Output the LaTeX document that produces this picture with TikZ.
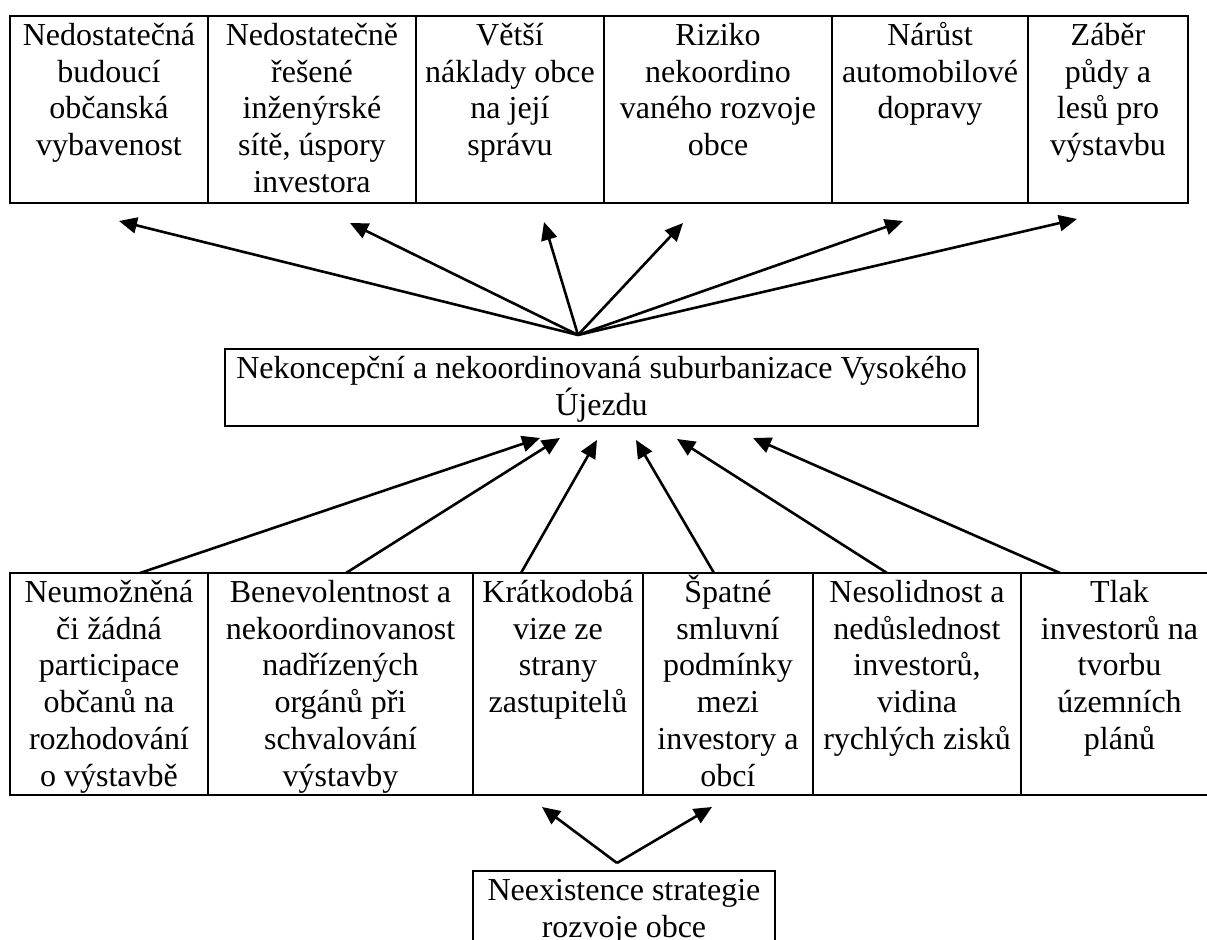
\documentclass[tikz,border=0pt]{standalone}
\usepackage{fontspec}
\setmainfont{Liberation Serif}
\usetikzlibrary{arrows.meta,fit}
\newcommand\mystrut{\rule{0pt}{14.5pt}}
\begin{document}
\begin{tikzpicture}[x=0.5pt,y=-0.5pt,
  box/.style={draw, line width=1.3pt, inner sep=0pt},
  lbl/.style={anchor=north, inner sep=0pt, align=center, font=\fontsize{16pt}{18.4pt}\selectfont},
  arr/.style={line width=1.3pt, -{Triangle[length=9pt,width=8pt]}}]
\useasboundingbox (0,0) rectangle (1207,940);
\begin{scope}
\clip (0,0) rectangle (1207,940);
% top row
\node[box, fit={(10,16) (208,203)}] (t1) {};
\node[box, fit={(208,16) (416,203)}] (t2) {};
\node[box, fit={(416,16) (604,203)}] (t3) {};
\node[box, fit={(604,16) (832,203)}] (t4) {};
\node[box, fit={(832,16) (1028,203)}] (t5) {};
\node[box, fit={(1028,16) (1188,203)}] (t6) {};
\node[lbl] (t1l) at (109,16) {\mystrut Nedostatečná\\budoucí\\občanská\\vybavenost};
\node[lbl] (t2l) at (312,16) {\mystrut Nedostatečně\\řešené\\inženýrské\\sítě, úspory\\investora};
\node[lbl] (t3l) at (510,16) {\mystrut Větší\\náklady obce\\na její\\správu};
\node[lbl] (t4l) at (718,16) {\mystrut Riziko\\nekoordino\\vaného rozvoje\\obce};
\node[lbl] (t5l) at (930,16) {\mystrut Nárůst\\automobilové\\dopravy};
\node[lbl] (t6l) at (1108,16) {\mystrut Záběr\\půdy a\\lesů pro\\výstavbu};
% center
\node[box, fit={(225,349) (978,426)}] (c) {};
\node[lbl] (cl) at (601.5,349) {\mystrut Nekoncepční a nekoordinovaná suburbanizace Vysokého\\Újezdu};
% bottom row
\node[box, fit={(10,573) (208,795)}] (b1) {};
\node[box, fit={(208,573) (473,795)}] (b2) {};
\node[box, fit={(473,573) (643,795)}] (b3) {};
\node[box, fit={(643,573) (813,795)}] (b4) {};
\node[box, fit={(813,573) (1021,795)}] (b5) {};
\node[box, fit={(1021,573) (1218,795)}] (b6) {};
\node[lbl] (b1l) at (109,573) {\mystrut Neumožněná\\či žádná\\participace\\občanů na\\rozhodování\\o výstavbě};
\node[lbl] (b2l) at (340.5,573) {\mystrut Benevolentnost a\\nekoordinovanost\\nadřízených\\orgánů při\\schvalování\\výstavby};
\node[lbl] (b3l) at (558,573) {\mystrut Krátkodobá\\vize ze\\strany\\zastupitelů};
\node[lbl] (b4l) at (728,573) {\mystrut Špatné\\smluvní\\podmínky\\mezi\\investory a\\obcí};
\node[lbl] (b5l) at (917,573) {\mystrut Nesolidnost a\\nedůslednost\\investorů,\\vidina\\rychlých zisků};
\node[lbl] (b6l) at (1119.5,573) {\mystrut Tlak\\investorů na\\tvorbu\\územních\\plánů};
% root
\node[box, fit={(473,871) (775,975)}] (r) {};
\node[lbl] (rl) at (624,871) {\mystrut Neexistence strategie\\rozvoje obce};
% coordinates
\coordinate (o) at (578,335);
\coordinate (p1) at (119,221);
\coordinate (p2) at (350,223);
\coordinate (p3) at (544,222);
\coordinate (p4) at (683,223);
\coordinate (p5) at (903,221);
\coordinate (p6) at (1077,219);
\coordinate (s1) at (140,573);
\coordinate (s2) at (346,573);
\coordinate (s3) at (521,573);
\coordinate (s4) at (714,573);
\coordinate (s5) at (887,573);
\coordinate (s6) at (1060,573);
\coordinate (q1) at (540,438);
\coordinate (q2) at (560,438);
\coordinate (q3) at (597,440);
\coordinate (q4) at (636,440);
\coordinate (q5) at (677,439);
\coordinate (q6) at (753,438);
\coordinate (ro) at (617,863);
\coordinate (r1) at (542,807);
\coordinate (r2) at (712,807);
% arrows
\foreach \i in {1,...,6} {\draw[arr] (o) -- (p\i);}
\foreach \i in {1,...,6} {\draw[arr] (s\i) -- (q\i);}
\draw[arr] (ro) -- (r1);
\draw[arr] (ro) -- (r2);
\end{scope}
\end{tikzpicture}
\end{document}
